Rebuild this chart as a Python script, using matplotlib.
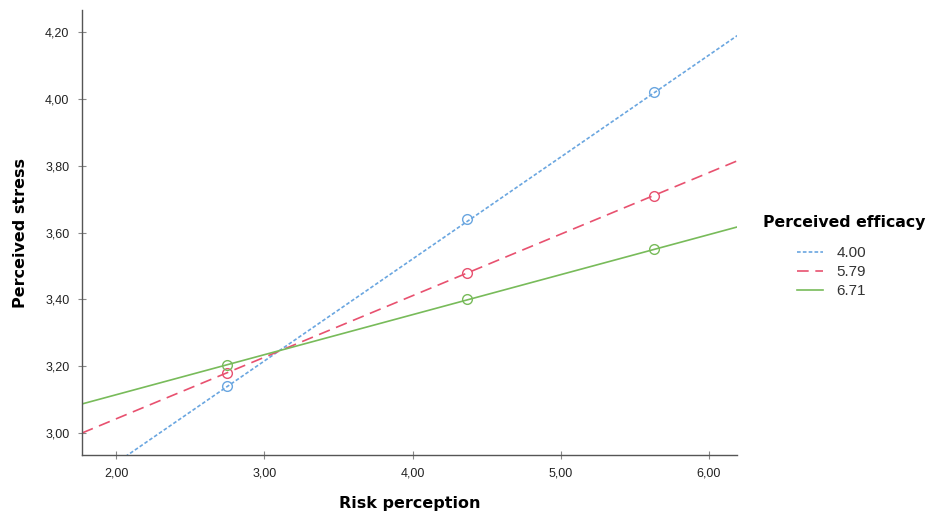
import matplotlib
matplotlib.use('Agg')
import matplotlib.pyplot as plt

plt.rcParams['font.family'] = ['Liberation Sans', 'DejaVu Sans']

# simple slopes: risk perception at -1SD, mean, +1SD
x_points = [2.75, 4.37, 5.63]
stress_400 = [3.14, 3.64, 4.02]
stress_579 = [3.18, 3.48, 3.71]
stress_671 = [3.205, 3.40, 3.55]

# fit lines across the axis range
line_x = [1.77, 6.19]
line_400 = [2.84, 4.19]
line_579 = [3.00, 3.815]
line_671 = [3.087, 3.617]

efficacy_labels = ['4.00', '5.79', '6.71']
x_ticks = [2.0, 3.0, 4.0, 5.0, 6.0]
y_ticks = [3.0, 3.2, 3.4, 3.6, 3.8, 4.0, 4.2]

colors = ['#6aa6e0', '#e8516f', '#78bb5a']
styles = [(0, (2.2, 1.3)), (0, (7, 4)), '-']
bold_font = 'DejaVu Sans'

fig = plt.figure(figsize=(9.28, 5.13), dpi=100)
ax = fig.add_axes([0.0884, 0.113, 0.706, 0.867])

series = [(stress_400, line_400), (stress_579, line_579), (stress_671, line_671)]
handles = []
for (pts, ln), c, ls, lab in zip(series, colors, styles, efficacy_labels):
    h, = ax.plot(line_x, ln, color=c, linestyle=ls, linewidth=1.2, label=lab)
    handles.append(h)
    ax.plot(x_points, pts, linestyle='none', marker='o', markersize=7,
            markerfacecolor='none', markeredgecolor=c, markeredgewidth=1.0)

ax.set_xlim(1.77, 6.19)
ax.set_ylim(2.934, 4.266)
ax.set_xticks(x_ticks)
ax.set_yticks(y_ticks)
ax.set_xticklabels([f'{v:.2f}'.replace('.', ',') for v in x_ticks])
ax.set_yticklabels([f'{v:.2f}'.replace('.', ',') for v in y_ticks])
ax.tick_params(direction='inout', length=6, width=0.8, color='#888888',
               labelsize=9, labelcolor='#222222', pad=6)

for s in ['top', 'right']:
    ax.spines[s].set_visible(False)
for s in ['left', 'bottom']:
    ax.spines[s].set_color('#555555')
    ax.spines[s].set_linewidth(1.0)

ax.set_xlabel('Risk perception', fontsize=11.5, fontweight='bold',
              family=bold_font, labelpad=12)
ax.set_ylabel('Perceived stress', fontsize=11.5, fontweight='bold',
              family=bold_font, labelpad=12)

# legend: bold title with indented entries
fig.text(763 / 928, 1 - 222 / 513, 'Perceived efficacy', fontsize=11.3,
         fontweight='bold', family=bold_font, va='center', ha='left')
fig.legend(handles, efficacy_labels, loc='upper left',
           bbox_to_anchor=(797 / 928, 1 - 246 / 513), frameon=False,
           fontsize=11, handlelength=1.7, labelspacing=0.33,
           handletextpad=0.9, borderpad=0, borderaxespad=0,
           labelcolor='#333333')

fig.savefig('out.png', dpi=100)
